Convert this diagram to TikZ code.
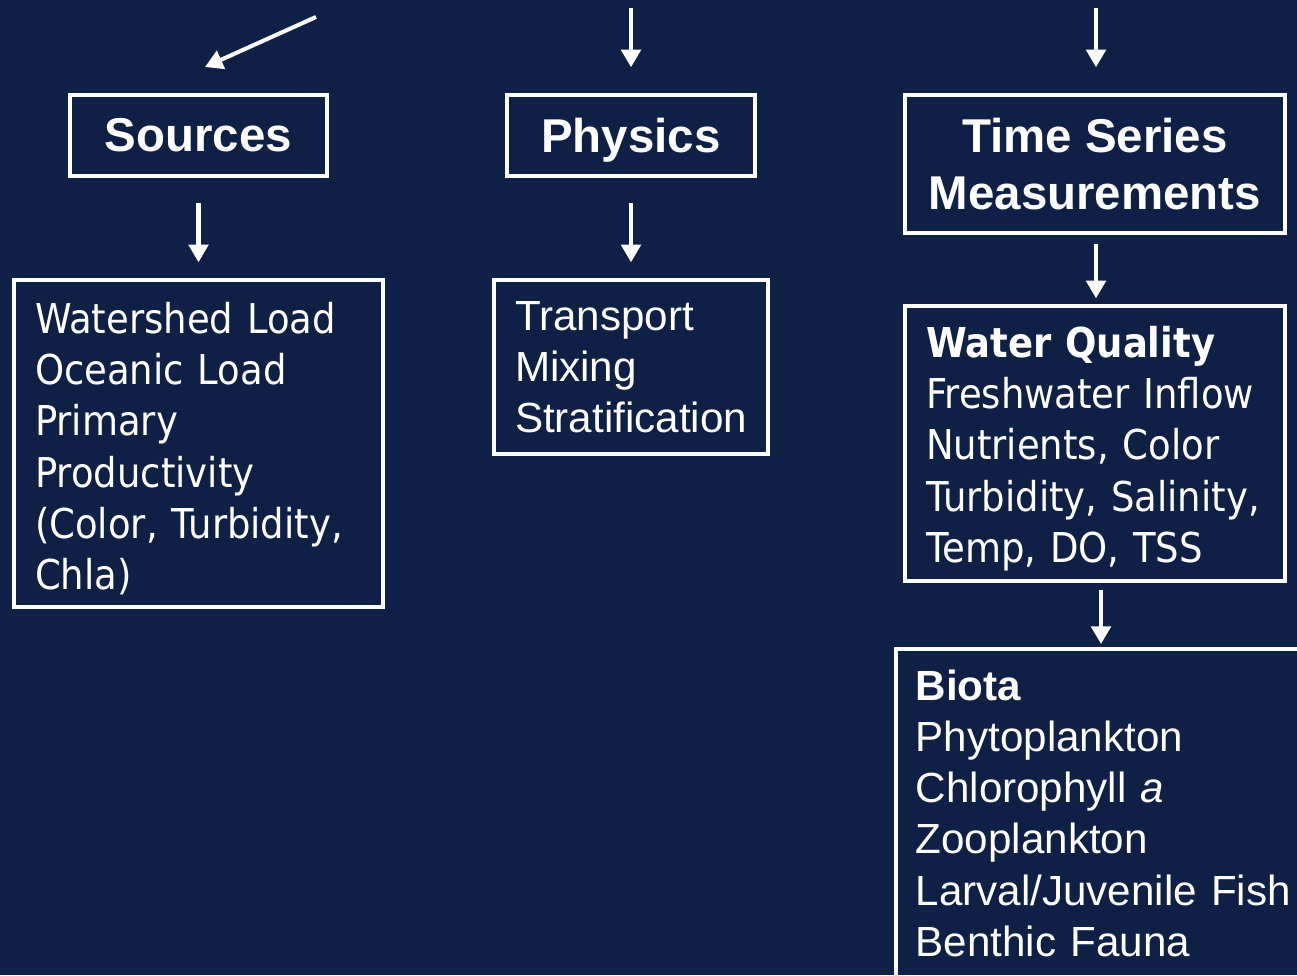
\documentclass[tikz,border=0pt]{standalone}
\usepackage{fontspec}
\setmainfont{Liberation Sans}
\newfontfamily\tahoma[FakeStretch=0.9]{DejaVu Sans}
\usetikzlibrary{arrows.meta}
\definecolor{navy}{HTML}{0E2046}
\newcommand{\topgap}{\rule{0pt}{23.5pt}}

\begin{document}
\begin{tikzpicture}[x=0.02cm, y=-0.02cm,
    box/.style={draw=white, line width=2pt, text=white},
    head/.style={box, font=\fontsize{27}{32.4}\selectfont\bfseries, align=center},
    list/.style={box, font=\tahoma\fontsize{23.4}{29.2}\selectfont, align=left, inner xsep=0.42cm},
    plain/.style={box, font=\fontsize{24}{29.2}\selectfont, align=left, inner xsep=0.42cm},
    arr/.style={draw=white, line width=2.3pt, -{Triangle[length=10pt,width=11pt]}}]
    \fill[navy] (0,0) rectangle (1297,975);
    \useasboundingbox (0,0) rectangle (1297,975);

    % Headings
    \node[head, minimum width=5.14cm, minimum height=1.62cm] (sources) at (198.5,135.5) {Sources};
    \node[head, text depth=0pt, minimum width=4.96cm, minimum height=1.62cm] (physics) at (631,135.5) {Physics};
    \node[head, minimum width=7.6cm, minimum height=2.76cm] (timeseries) at (1095,164) {Time Series\\Measurements};

    % Lists under each heading
    \node[list, text width=6.54cm, minimum height=6.54cm] (srclist) at (198.5,443.5)
        {\topgap Watershed Load\\Oceanic Load\\Primary\\Productivity\\(Color, Turbidity,\\Chla)};
    \node[plain, text width=4.64cm, minimum height=3.48cm] (physlist) at (631,367)
        {Transport\\Mixing\\Stratification};
    \node[list, text width=6.76cm, minimum height=5.5cm] (quality) at (1095,443.5)
        {\topgap\textbf{Water Quality}\\Freshwater Inflow\\Nutrients, Color\\Turbidity, Salinity,\\Temp, DO, TSS};
    \node[plain, anchor=north west, inner xsep=0.4cm, text width=8cm,
        minimum height=6.58cm] (biota) at (894,647)
        {\textbf{Biota}\\Phytoplankton\\Chlorophyll \textit{a}\\Zooplankton\\Larval/Juvenile Fish\\Benthic Fauna};

    % Incoming arrows
    \coordinate (in1) at (316,17);
    \coordinate (tip1) at (205,67);
    \coordinate (in2) at (631,8);
    \coordinate (in3) at (1096,8);
    \draw[arr] (in1) -- (tip1);
    \draw[arr, shorten >=0.52cm] (in2) -- (physics);
    \draw[arr, shorten >=0.52cm] (in3) -- (in3 |- timeseries.north);

    % Heading to list
    \draw[arr, shorten <=0.5cm, shorten >=0.32cm] (sources) -- (srclist);
    \draw[arr, shorten <=0.5cm, shorten >=0.32cm] (physics) -- (physlist);
    \draw[arr, shorten <=0.18cm, shorten >=0.12cm] (timeseries.south -| in3) -- (quality.north -| in3);
    \draw[arr, shorten <=0.14cm, shorten >=0.06cm] ([xshift=0.12cm]quality.south) -- ([xshift=0.12cm]quality.south |- biota.north);
\end{tikzpicture}
\end{document}
